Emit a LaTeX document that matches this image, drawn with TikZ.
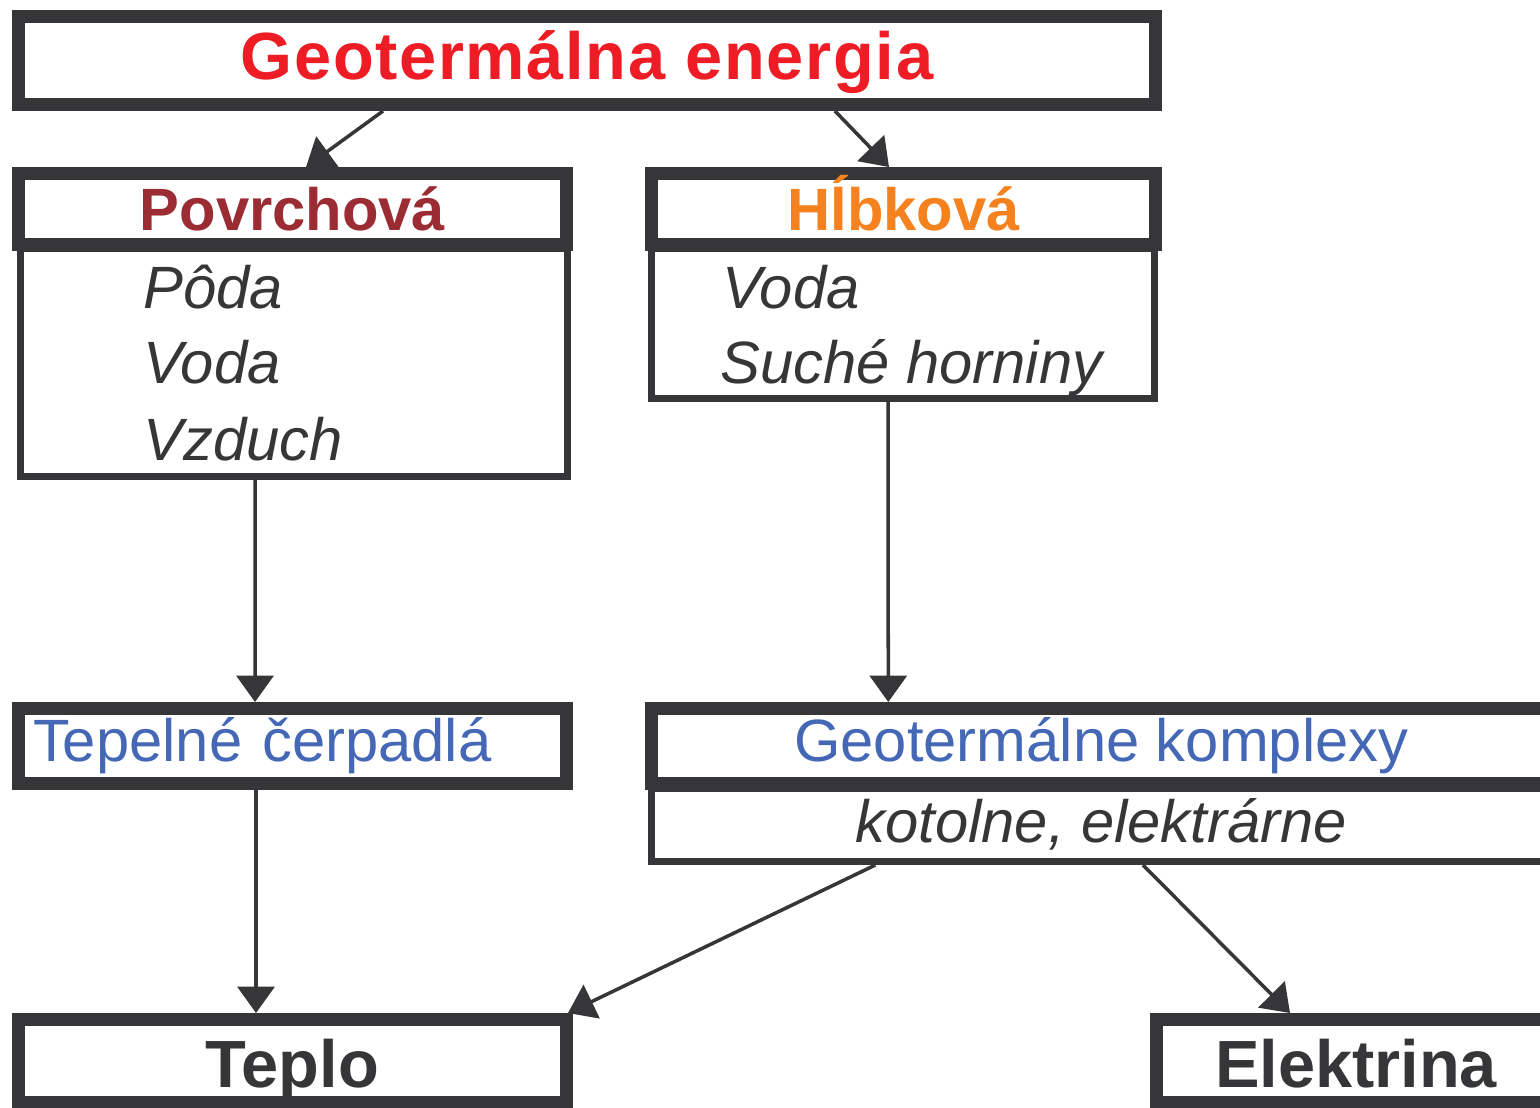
\documentclass[tikz,border=0pt]{standalone}
\usepackage{fontspec}
\setmainfont{Liberation Sans}
\usetikzlibrary{arrows.meta}
\definecolor{frame}{HTML}{363638}
\definecolor{titlered}{HTML}{EE1C25}
\definecolor{povrred}{HTML}{9B2C33}
\definecolor{hlborange}{HTML}{F6821F}
\definecolor{komplblue}{HTML}{4468B6}
\begin{document}
\begin{tikzpicture}[x=0.02cm, y=-0.02cm,
    head/.style={draw=frame, line width=7.4pt, inner sep=0pt, fill=white, font=\fontsize{34}{40}\selectfont\bfseries},
    list/.style={draw=frame, line width=4pt, inner sep=0pt, text=frame},
    item/.style={anchor=base west, inner sep=0pt, text=frame, font=\fontsize{34}{40}\selectfont\itshape},
    plain/.style={font=\fontsize{34}{40}\selectfont},
    big/.style={font=\fontsize{38}{44}\selectfont\bfseries, text height=30.9pt, text depth=0pt},
    ar/.style={draw=frame, line width=2pt, -{Triangle[length=15pt,width=21pt]}}]
  \useasboundingbox (0,0) rectangle (1540,1107);
  % lists below the headers
  \node[list, minimum width=10.94cm, minimum height=4.57cm] (povrlist) at (294,362.25) {};
  \node[list, minimum width=10.06cm, minimum height=3.01cm] (hlblist) at (903,323.25) {};
  \node[list, minimum width=17.99cm, minimum height=1.47cm, font=\fontsize{34}{40}\selectfont\itshape] (komplist) at (1101.25,824.75) {kotolne, elektrárne};

  % headers
  \node[head, minimum width=22.74cm, minimum height=1.76cm, text=titlered, font=\fontsize{38}{44}\selectfont\bfseries\addfontfeature{LetterSpace=2.5}, text height=22pt, text depth=0pt] (title) at (587,60.5) {Geotermálna energia};
  \node[head, minimum width=10.96cm, minimum height=1.42cm, text=povrred, text height=24.8pt, text depth=0pt] (povr) at (292.5,209) {Povrchová};
  \node[head, minimum width=10.08cm, minimum height=1.42cm, text=hlborange, text height=24.8pt, text depth=0pt] (hlb) at (903.5,209) {Hĺbková};
  \node[head, plain, minimum height=1.5cm, text width=10.38cm, inner xsep=0.29cm, align=left, text=komplblue] (tep) at (292.5,746) {Tepelné čerpadlá};
  \node[head, plain, minimum width=17.99cm, minimum height=1.5cm, text=komplblue] (komp) at (1101.25,746) {Geotermálne komplexy};
  \node[head, big, minimum width=10.96cm, minimum height=1.65cm, text=frame] (teplo) at (292.5,1060.75) {Teplo};
  \node[head, big, minimum width=7.98cm, minimum height=1.65cm, text=frame] (elek) at (1356,1060.75) {Elektrina};

  % items
  \node[item] (poda) at (143,308) {Pôda};
  \node[item] (voda) at (143,383) {Voda};
  \node[item] (vzduch) at (143,460) {Vzduch};
  \node[item] (hvoda) at (722,308) {Voda};
  \node[item] (suche) at (720,383) {Suché horniny};

  % arrows
  \draw[ar] ([xshift=-4.08cm]title.south) -- ([xshift=0.27cm]povr.north);
  \draw[ar] ([xshift=4.96cm]title.south) -- ([xshift=-0.29cm]hlb.north);
  \draw[ar] ([xshift=-0.78cm]povrlist.south) -- ([xshift=-0.75cm]tep.north);
  \draw[ar] ([xshift=-0.3cm]hlblist.south) -- ([xshift=-4.26cm]komp.north);
  \draw[ar] ([xshift=-0.73cm]tep.south) -- ([xshift=-0.73cm]teplo.north);
  \draw[ar] ([xshift=-4.52cm]komplist.south) -- ([xshift=-0.1cm]teplo.north east);
  \draw[ar] ([xshift=0.835cm]komplist.south) -- ([xshift=-1.32cm]elek.north);
\end{tikzpicture}
\end{document}
